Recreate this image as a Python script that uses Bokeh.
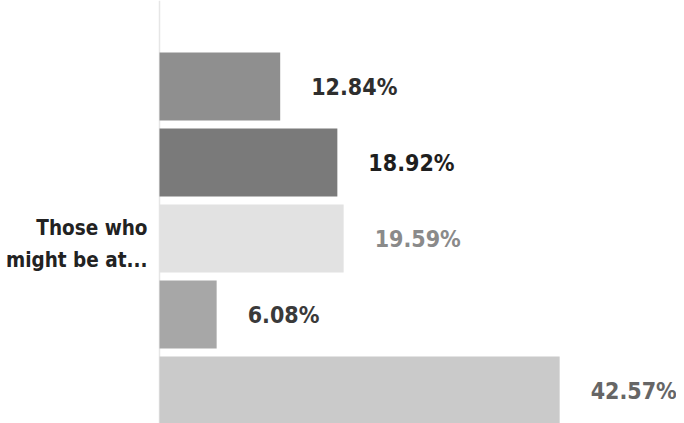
from bokeh.plotting import figure
from bokeh.models import Range1d, ColumnDataSource
from bokeh.core.properties import value
from bokeh.embed import file_html
from bokeh.resources import INLINE

# ---- data ----
values = [12.84, 18.92, 19.59, 6.08, 42.57]
labels = ["12.84%", "18.92%", "19.59%", "6.08%", "42.57%"]
bar_colors = ["#8f8f8f", "#7a7a7a", "#e2e2e2", "#a7a7a7", "#cacaca"]
label_colors = ["#2e2e2e", "#1e1e1e", "#8a8a8a", "#3a3a3a", "#666666"]
group_label = "Those who\nmight be at..."

# ---- layout constants ----
W, H = 676, 423
PX_PER_UNIT = 9.4
LEFT_PX = 159          # frame px where x=0
PITCH = 76.0
FIRST_CENTER = 86.0     # frame px of first bar centre
FONT = "DejaVu Sans Condensed"

idx = list(range(len(values)))
src = ColumnDataSource(dict(
    y=idx, v=values, lab=labels, bc=bar_colors, lc=label_colors,
    lx=[v + 31 / PX_PER_UNIT for v in values],
))

x0 = -LEFT_PX / PX_PER_UNIT
x1 = (W - LEFT_PX) / PX_PER_UNIT
y_top = -FIRST_CENTER / PITCH
y_bot = (H - FIRST_CENTER) / PITCH

p = figure(width=W, height=H, output_backend="svg", toolbar_location=None,
           x_range=Range1d(x0, x1), y_range=Range1d(y_bot, y_top),
           min_border=0, min_border_left=0, min_border_right=0,
           min_border_top=0, min_border_bottom=0)
p.axis.visible = False
p.grid.visible = False
p.outline_line_color = None
p.background_fill_color = "white"
p.border_fill_color = "white"

# faint baseline
p.segment(x0=[0], y0=[y_top], x1=[0], y1=[y_bot], line_color="#e6e6e6", line_width=1.5)

p.hbar(y="y", left=0, right="v", height=68 / PITCH, fill_color="bc",
       line_color=None, source=src)

p.text(x="lx", y="y", text="lab", text_color="lc", source=src,
       text_font=value(FONT), text_font_style="bold",
       text_font_size="23px", text_align="left", text_baseline="middle")

p.text(x=[-12 / PX_PER_UNIT], y=[2.07], text=[group_label],
       text_font=value(FONT), text_font_style="bold",
       text_font_size="20.5px", text_color="#222222", text_align="right",
       text_baseline="middle", text_line_height=1.32)

open("out.html", "w").write(file_html(p, INLINE))
